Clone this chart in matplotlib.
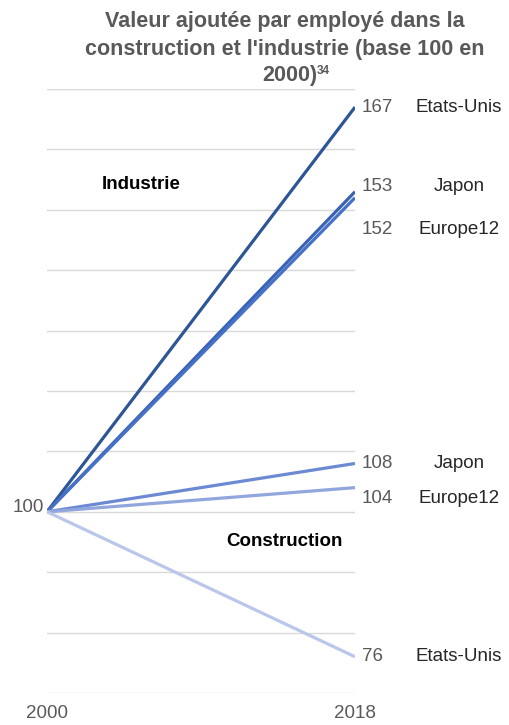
import matplotlib
matplotlib.use('Agg')
import matplotlib.pyplot as plt

plt.rcParams['font.family'] = ['Liberation Sans', 'DejaVu Sans']

years = [2000, 2018]
base = 100

industrie_pays = ['Etats-Unis', 'Japon', 'Europe12']
industrie_2018 = [167, 153, 152]
construction_pays = ['Japon', 'Europe12', 'Etats-Unis']
construction_2018 = [108, 104, 76]

# colours and label offsets (points) per line
industrie_style = [('#2E5596', 0), ('#3A63B5', 4), ('#4571C6', -23)]
construction_style = [('#6B8AD3', 0), ('#90A6DD', -8), ('#BAC7EA', 0)]

W, H = 510, 725
fig = plt.figure(figsize=(W / 100, H / 100), dpi=100)
ax = fig.add_axes([47 / W, 1 - 693 / H, 308 / W, 604 / H])

series = list(zip(industrie_pays, industrie_2018, industrie_style)) + \
	list(zip(construction_pays, construction_2018, construction_style))

for pays, val, (color, dy) in series:
	ax.plot(years, [base, val], color=color, lw=2.3, solid_capstyle='butt', zorder=3)
	ax.annotate(str(val), (years[1], val), xytext=(5, dy), textcoords='offset points',
		ha='left', va='center', fontsize=13.5, color='#595959', annotation_clip=False)
	ax.annotate(pays, (years[1], val), xytext=(75, dy), textcoords='offset points',
		ha='center', va='center', fontsize=13.5, color='#262626', annotation_clip=False)

ax.annotate(str(base), (years[0], base), xytext=(-2, 3), textcoords='offset points',
	ha='right', va='center', fontsize=13.5, color='#595959', annotation_clip=False)

ax.text(2005.5, 154.2, 'Industrie', ha='center', va='center', fontsize=13.5, fontweight='bold', color='#000000')
ax.text(2013.9, 95, 'Construction', ha='center', va='center', fontsize=13.5, fontweight='bold', color='#000000')

ax.set_xlim(2000, 2018)
ax.set_ylim(70, 170)
ax.set_yticks(range(70, 171, 10))
ax.yaxis.grid(True, color='#D9D9D9', lw=1)
ax.set_axisbelow(True)
ax.tick_params(left=False, labelleft=False, bottom=False)
ax.set_xticks(years)
ax.set_xticklabels([str(y) for y in years], fontsize=13.5, color='#595959')
ax.tick_params(axis='x', pad=5)
for s in ax.spines.values():
	s.set_visible(False)

title_kw = dict(fontsize=15.5, fontweight='bold', color='#595959', va='center')
fig.text(285 / W, 1 - 22 / H, 'Valeur ajoutée par employé dans la', ha='center', **title_kw)
fig.text(285 / W, 1 - 49 / H, "construction et l'industrie (base 100 en", ha='center', **title_kw)
fig.text(317 / W, 1 - 76 / H, '2000)', ha='right', **title_kw)
fig.text(317 / W, 1 - 71 / H, '34', ha='left', va='center', fontsize=8.5, fontweight='bold', color='#595959')

fig.savefig('out.png', dpi=100)
